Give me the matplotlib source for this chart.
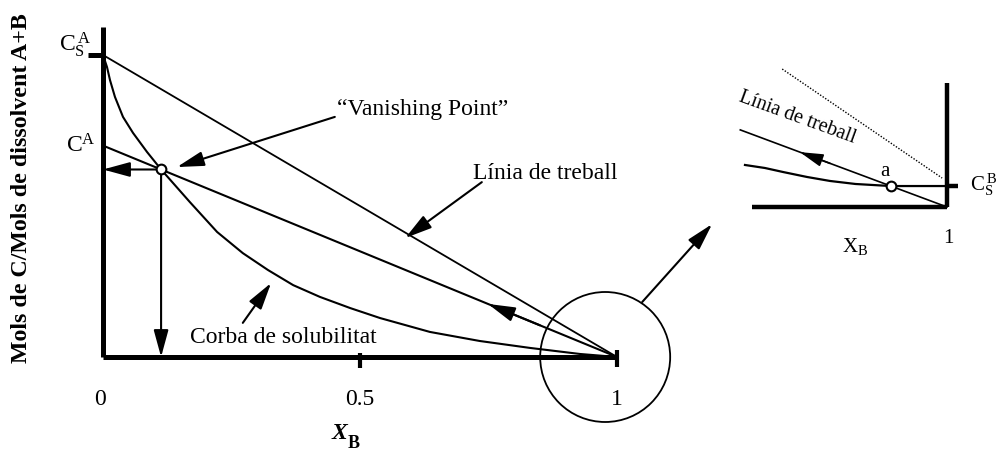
import matplotlib
matplotlib.use("Agg")
import matplotlib.pyplot as plt
from matplotlib.patches import Ellipse

plt.rcParams['font.family'] = ['Liberation Serif', 'DejaVu Serif']
plt.rcParams['mathtext.fontset'] = 'custom'
plt.rcParams['mathtext.rm'] = 'Liberation Serif'

# ---- main diagram data (x = mole fraction of B, y = mols C / mols solvent, scaled to C_S^A = 1)
cs_a = 1.0
c_a = 0.70
sol_x = [0.0, 0.0078, 0.0136, 0.0233, 0.0389, 0.0584, 0.0856, 0.113, 0.169, 0.222,
         0.272, 0.321, 0.370, 0.422, 0.481, 0.539, 0.636, 0.733, 0.831, 0.928, 1.0]
sol_y = [1.0, 0.960, 0.917, 0.861, 0.795, 0.742, 0.679, 0.621, 0.513, 0.414,
         0.344, 0.288, 0.238, 0.199, 0.162, 0.129, 0.083, 0.053, 0.030, 0.010, 0.0]
x_ticks = [0.0, 0.5, 1.0]
x_tick_labels = ['0', '0.5', '1']

# vanishing point: where the working line meets the solubility curve
x_v = 0.113
y_v = c_a * (1 - x_v)

# ---- zoomed detail near X_B = 1
cs_b = 0.0215
work_slope = 0.373          # working line slope in the zoomed view
a_x = 1 - cs_b / work_slope
ins_curve_x = [0.7928, 0.8133, 0.8318, 0.8564, 0.8800, 0.9062, a_x, 1.0]
ins_curve_y = [0.0431, 0.0400, 0.0359, 0.0308, 0.0267, 0.0236, cs_b, cs_b]
dot_x = [0.831, 0.995]
dot_y = [0.1415, 0.0297]

fig = plt.figure(figsize=(10.05, 4.53), dpi=100)
ax = fig.add_axes([0, 0, 1, 1])
px_x, px_y = 514, 302      # pixels per data unit
ax.set_xlim(-103 / px_x, 902 / px_x)
ax.set_ylim(-96 / px_y, 357 / px_y)
ax.axis('off')

k = 'black'
fs = 17

def arrow(axis, tail, tip, lw=1.5, ms=15):
    axis.annotate('', xy=tip, xytext=tail,
                  arrowprops=dict(arrowstyle='-|>,head_length=1.1,head_width=0.3',
                                  color=k, lw=lw, shrinkA=0, shrinkB=0,
                                  mutation_scale=ms))

# axes drawn by hand
ax.plot([0, 0], [0, 1.093], color=k, lw=3.6, solid_capstyle='butt')
ax.plot([0, 1], [0, 0], color=k, lw=3.6, solid_capstyle='butt')
ax.plot([-0.03, 0], [cs_a, cs_a], color=k, lw=3.6, solid_capstyle='butt')
ax.plot([0.5, 0.5], [-0.036, 0.013], color=k, lw=3.0, solid_capstyle='butt')
ax.plot([1, 1], [-0.033, 0.023], color=k, lw=3.0, solid_capstyle='butt')

for xt, lab in zip(x_ticks, x_tick_labels):
    ax.text(xt - 0.006 if xt == 0 else xt, -0.142, lab, fontsize=fs,
            ha='center', va='center')

# bold italic X with bold subscript B
ax.text(0.461, -0.252, 'X', fontsize=fs, fontweight='bold', fontstyle='italic',
        ha='center', va='center')
ax.text(0.488, -0.288, 'B', fontsize=13, fontweight='bold', ha='center', va='center')

ax.text(-0.158, 0.560, 'Mols de C/Mols de dissolvent A+B', fontsize=17.2,
        fontweight='bold', rotation=90, ha='center', va='center')

ax.text(-0.022, 1.035, r'$\mathregular{C_S^{\,A}}$', fontsize=fs, ha='right', va='center')
ax.text(-0.014, 0.700, r'$\mathregular{C^A}$', fontsize=fs, ha='right', va='center')

# lines and the solubility curve
ax.plot([0, 1], [cs_a, 0], color=k, lw=1.3)
ax.plot([0, 1], [c_a, 0], color=k, lw=1.5)
ax.plot(sol_x, sol_y, color=k, lw=1.5)

arrow(ax, (x_v, y_v), (0.0, y_v))
arrow(ax, (x_v, y_v), (x_v, 0.0))
ax.plot([x_v], [y_v], 'o', ms=7, mfc='white', mec=k, mew=1.5, zorder=5)

ax.text(0.455, 0.818, '\u201cVanishing Point\u201d', fontsize=fs, ha='left', va='center')
arrow(ax, (0.451, 0.795), (0.144, 0.629))

ax.text(0.860, 0.609, 'L\u00ednia de treball', fontsize=fs, ha='center', va='center')
arrow(ax, (0.737, 0.579), (0.588, 0.394))
arrow(ax, (0.85, c_a * 0.15), (0.749, c_a * (1 - 0.749)))

ax.text(0.350, 0.063, 'Corba de solubilitat', fontsize=fs, ha='center', va='center')
arrow(ax, (0.272, 0.113), (0.327, 0.245))

# circle marking the zoomed region and the pointer to it
ax.add_patch(Ellipse((0.977, 0.0), 130 / px_x, 130 / px_y, fill=False, ec=k, lw=1.3))
arrow(ax, (1.049, 0.182), (1.185, 0.440))

# ---- detail view
ins = fig.add_axes([730 / 1005, 183 / 453, 275 / 1005, 210 / 453])
ins.set_xlim(1 - 217 / 975, 1 + 58 / 975)
ins.set_ylim(-63 / 975, 147 / 975)
ins.axis('off')

ins.plot([1, 1], [0, 0.127], color=k, lw=3.2, solid_capstyle='butt')
ins.plot([0.80, 1], [0, 0], color=k, lw=3.2, solid_capstyle='butt')
ins.plot([1, 1.011], [cs_b, cs_b], color=k, lw=3.2, solid_capstyle='butt')
ins.plot(dot_x, dot_y, color=k, lw=1.0, ls=(0, (1, 1.2)))
ins.plot([0.788, 1], [work_slope * 0.212, 0], color=k, lw=1.2)
ins.plot(ins_curve_x, ins_curve_y, color=k, lw=1.6)
ins.plot([a_x], [cs_b], 'o', ms=7, mfc='white', mec=k, mew=1.5, zorder=5)
arrow(ins, (0.88, work_slope * 0.12), (0.849, work_slope * (1 - 0.849)), lw=1.2, ms=13)

ins.text(0.936, 0.036, 'a', fontsize=15, ha='center', va='center')
ins.text(1.024, 0.0226, r'$\mathregular{C_S^{\,B}}$', fontsize=15, ha='left', va='center')
ins.text(1.001, -0.032, '1', fontsize=15, ha='center', va='center')
ins.text(0.906, -0.041, r'$\mathregular{X_B}$', fontsize=15, ha='center', va='center')
ins.text(0.846, 0.0913, 'L\u00ednia de treball', fontsize=14.5, rotation=-20,
         rotation_mode='anchor', ha='center', va='center')

fig.savefig('out.png', dpi=100)
